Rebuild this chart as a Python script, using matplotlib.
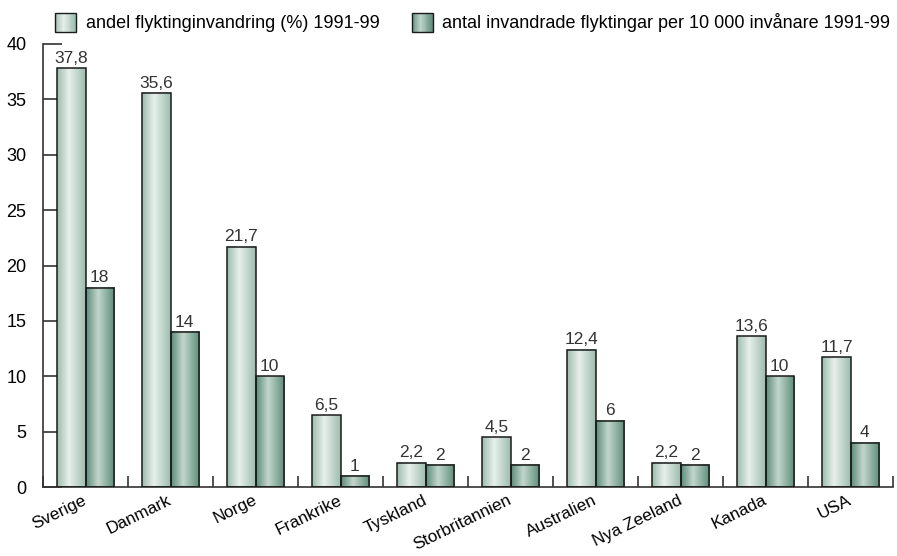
import matplotlib
matplotlib.use("Agg")
import matplotlib.pyplot as plt
import numpy as np
from matplotlib.colors import LinearSegmentedColormap
from matplotlib.patches import Rectangle
from matplotlib.legend_handler import HandlerBase
from matplotlib.transforms import ScaledTranslation

plt.rcParams['font.family'] = ['Liberation Sans', 'DejaVu Sans']

countries = ["Sverige", "Danmark", "Norge", "Frankrike", "Tyskland",
             "Storbritannien", "Australien", "Nya Zeeland", "Kanada", "USA"]
andel = [37.8, 35.6, 21.7, 6.5, 2.2, 4.5, 12.4, 2.2, 13.6, 11.7]
antal = [18, 14, 10, 1, 2, 2, 6, 2, 10, 4]
series_names = ["andel flyktinginvandring (%) 1991-99",
                "antal invandrade flyktingar per 10 000 invånare 1991-99"]
yticks = [0, 5, 10, 15, 20, 25, 30, 35, 40]

light_cmap = LinearSegmentedColormap.from_list(
    "light", [(0, "#9cbcad"), (0.42, "#e8f0ec"), (1, "#9cbcad")])
dark_cmap = LinearSegmentedColormap.from_list(
    "dark", [(0, "#5c8b79"), (0.42, "#c2d6cc"), (1, "#5c8b79")])

fig = plt.figure(figsize=(8.97, 5.56), dpi=100)
ax = fig.add_axes([43/897, 69/556, 850/897, 443/556])

x = np.arange(len(countries)) + 0.5
w = 0.33
grad = np.linspace(0, 1, 256).reshape(1, -1)

def gradient_bars(xs, vals, cmap):
    bars = ax.bar(xs, vals, width=w, facecolor="none", edgecolor="#1a1a1a",
                  linewidth=1.1, zorder=3)
    for b in bars:
        x0, y0 = b.get_x(), b.get_y()
        ax.imshow(grad, cmap=cmap, aspect="auto",
                  extent=(x0, x0 + b.get_width(), y0, y0 + b.get_height()),
                  zorder=2, interpolation="bilinear")
    return bars

b1 = gradient_bars(x - w/2, andel, light_cmap)
b2 = gradient_bars(x + w/2, antal, dark_cmap)

def fmt(v):
    s = f"{v:g}"
    return s.replace(".", ",")

for xi, v in zip(x - w/2, andel):
    ax.text(xi, v + 0.2, fmt(v), ha="center", va="bottom", fontsize=12.5, color="#333333")
for xi, v in zip(x + w/2, antal):
    ax.text(xi, v + 0.2, fmt(v), ha="center", va="bottom", fontsize=12.5, color="#333333")

ax.set_xlim(0, len(countries))
ax.set_ylim(0, 40)
ax.set_yticks(yticks)
ax.set_yticklabels([str(t) for t in yticks], fontsize=13)
ax.set_xticks(np.arange(len(countries) + 1))
ax.set_xticklabels([])
ax.set_xticks(x, minor=True)
ax.set_xticklabels(countries, minor=True, rotation=26, ha="right",
                   rotation_mode="anchor", fontsize=12.3)
ax.tick_params(axis="x", which="minor", length=0, pad=4)
ax.tick_params(axis="x", which="major", direction="in", length=8, width=1.2, color="#333333")
ax.tick_params(axis="y", direction="in", length=14, width=1.2, color="#333333", pad=12)
off = ScaledTranslation(-3/100, 0, fig.dpi_scale_trans)
for lbl in ax.get_xticklabels(minor=True):
    lbl.set_transform(lbl.get_transform() + off)
for s in ["top", "right"]:
    ax.spines[s].set_visible(False)
for s in ["left", "bottom"]:
    ax.spines[s].set_linewidth(1.2)
    ax.spines[s].set_color("#333333")
ax.set_axisbelow(True)


class GradHandler(HandlerBase):
    def __init__(self, cmap):
        super().__init__()
        self.cmap = cmap

    def create_artists(self, legend, orig_handle, xdescent, ydescent, width,
                       height, fontsize, trans):
        arts = []
        n = 24
        hw = width
        x0 = -xdescent
        y0 = -ydescent - height * 0.25
        hh = height * 1.45
        for i in range(n):
            c = self.cmap((i + 0.5) / n)
            r = Rectangle((x0 + hw * i / n, y0), hw / n + 0.3, hh,
                          facecolor=c, edgecolor="none", transform=trans)
            arts.append(r)
        arts.append(Rectangle((x0, y0), hw, hh, facecolor="none",
                              edgecolor="#1a1a1a", linewidth=1.0, transform=trans))
        return arts

h1 = Rectangle((0, 0), 1, 1)
h2 = Rectangle((0, 0), 1, 1)
fig.legend([h1, h2], series_names, loc="upper left", bbox_to_anchor=(0.043, 1.005),
           ncol=2, frameon=False, fontsize=13, handlelength=1.15,
           handletextpad=0.55, columnspacing=1.8,
           handler_map={h1: GradHandler(light_cmap), h2: GradHandler(dark_cmap)})

fig.savefig("out.png", dpi=100)
